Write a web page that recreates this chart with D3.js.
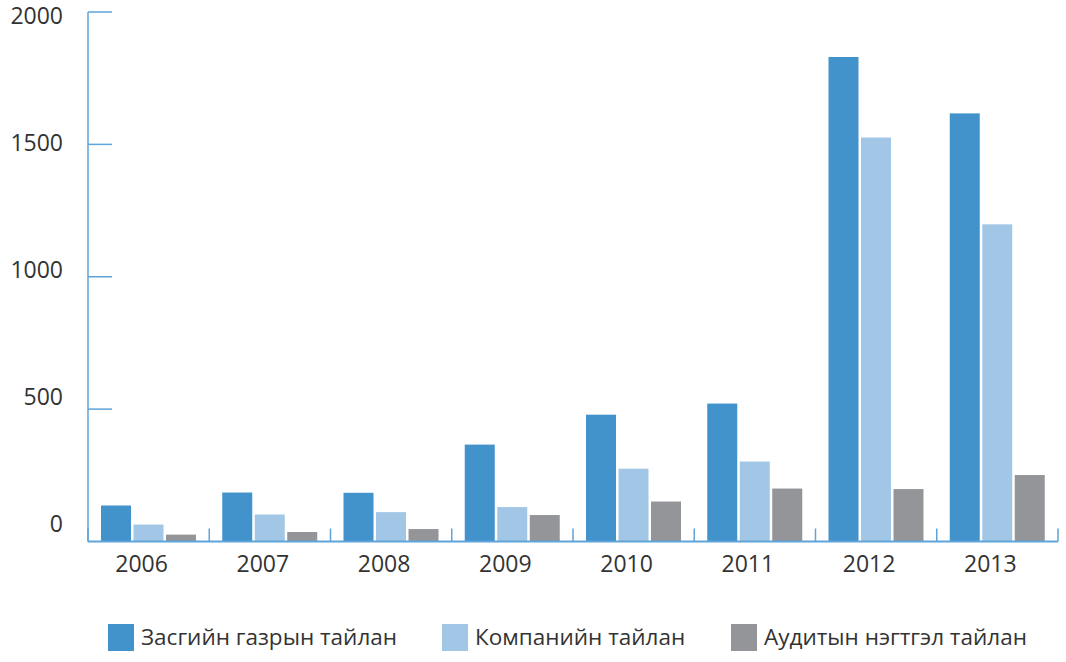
<!DOCTYPE html>
<html>
<head>
<meta charset="utf-8">
<script src="https://cdn.jsdelivr.net/npm/d3@7"></script>
<style>
  body { margin: 0; background: #fff; }
  text { font-family: "Open Sans", sans-serif; fill: #333; }
</style>
</head>
<body>
<div id="chart"></div>
<script>
//
// data
//
var years = ["2006", "2007", "2008", "2009", "2010", "2011", "2012", "2013"];
var seriesNames = ["Засгийн газрын тайлан", "Компанийн тайлан", "Аудитын нэгтгэл тайлан"];
var govt    = [136, 185, 184, 366, 479, 521, 1830, 1617];
var company = [64, 102, 111, 130, 275, 302, 1526, 1198];
var audit   = [26, 36, 47, 100, 151, 200, 198, 251];
var yTicks  = [0, 500, 1000, 1500, 2000];
var colors  = ["#4292cc", "#a2c7e6", "#949599"];

var width = 1066, height = 662;
var axisColor = "#5fa3d9";

var svg = d3.select("#chart").append("svg")
  .attr("width", width)
  .attr("height", height);

//
// scales
//
var x = d3.scaleBand().domain(years).range([88, 1058]).padding(0);
var xs = d3.scaleBand().domain(d3.range(3)).range([13, 108]).paddingInner(0.077);
var y = d3.scaleLinear().domain([0, 2000]).range([541.5, 12]);
// tick labels sit a bit off the ticks in the original
var yLab = d3.scaleLinear().domain([0, 2000]).range([532, 24]);

var rows = years.map(function(yr, i) {
  return { year: yr, values: [govt[i], company[i], audit[i]] };
});

//
// bars
//
var groups = svg.selectAll(".grp")
  .data(rows)
  .enter().append("g")
  .attr("class", "grp")
  .attr("transform", function(d) { return "translate(" + x(d.year) + ",0)"; });

groups.selectAll("rect")
  .data(function(d) { return d.values; })
  .enter().append("rect")
  .attr("x", function(d, i) { return xs(i); })
  .attr("width", xs.bandwidth())
  .attr("y", function(d) { return y(d); })
  .attr("height", function(d) { return y(0) - y(d); })
  .style("fill", function(d, i) { return colors[i]; });

//
// Y axis: line with inward ticks, labels placed separately
//
svg.append("line")
  .attr("x1", 88).attr("x2", 88)
  .attr("y1", y(2000)).attr("y2", y(0))
  .style("stroke", axisColor).style("stroke-width", 1.5);

svg.selectAll(".ytick")
  .data(yTicks.filter(function(d) { return d > 0; }))
  .enter().append("line")
  .attr("x1", 88).attr("x2", 112)
  .attr("y1", function(d) { return y(d); })
  .attr("y2", function(d) { return y(d); })
  .style("stroke", axisColor).style("stroke-width", 1.5);

svg.selectAll(".ylab")
  .data(yTicks)
  .enter().append("text")
  .attr("x", 63)
  .attr("y", function(d) { return yLab(d); })
  .attr("text-anchor", "end")
  .style("font-size", "23px")
  .text(function(d) { return d; });

//
// X axis
//
svg.append("line")
  .attr("x1", 88).attr("x2", 1058)
  .attr("y1", y(0)).attr("y2", y(0))
  .style("stroke", axisColor).style("stroke-width", 2);

var bounds = years.map(function(d) { return x(d); }).concat([x.range()[1]]);
svg.selectAll(".xtick")
  .data(bounds)
  .enter().append("line")
  .attr("x1", function(d) { return d; })
  .attr("x2", function(d) { return d; })
  .attr("y1", y(0)).attr("y2", y(0) - 13)
  .style("stroke", axisColor).style("stroke-width", 1.5);

// year labels sit slightly left of the band centres in the original
svg.selectAll(".xlab")
  .data(years)
  .enter().append("text")
  .attr("x", function(d) { return x(d) + x.bandwidth() / 2 - 7; })
  .attr("y", 572)
  .attr("text-anchor", "middle")
  .style("font-size", "23px")
  .text(function(d) { return d; });

//
// legend
//
var legendX = [108, 442, 731];
var legend = svg.selectAll(".leg")
  .data(seriesNames)
  .enter().append("g")
  .attr("transform", function(d, i) { return "translate(" + legendX[i] + ",624)"; });

legend.append("rect")
  .attr("width", 26).attr("height", 27)
  .style("fill", function(d, i) { return colors[i]; });

legend.append("text")
  .attr("x", 33).attr("y", 21)
  .style("font-size", "22.5px")
  .text(function(d) { return d; });
</script>
</body>
</html>
